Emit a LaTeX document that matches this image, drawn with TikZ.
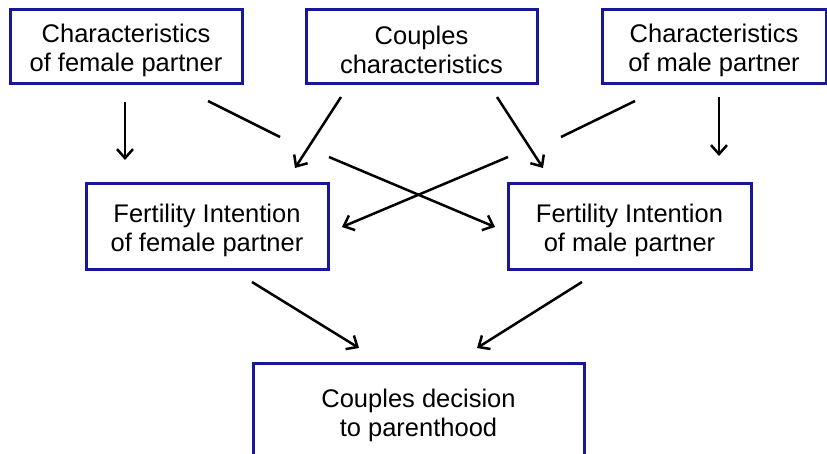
\documentclass[tikz,border=0pt]{standalone}
\usepackage{fontspec}
\setmainfont{Liberation Sans}
\usetikzlibrary{arrows.meta}
\definecolor{navy}{RGB}{24,24,150}
\newcommand{\toppad}{\rule{0pt}{27pt}}
\begin{document}
\begin{tikzpicture}[x=1pt,y=-1pt,
  box/.style={draw=navy, line width=3pt, align=center, inner sep=0pt,
    font=\fontsize{25.5}{29}\selectfont, text=black},
  arr/.style={-{Straight Barb[length=9pt,width=16pt]}, line width=2.5pt},
  seg/.style={line width=2.5pt}]
\useasboundingbox (0,0) rectangle (827,453);
\clip (0,0) rectangle (827,453);
% top boxes
\node[box, minimum width=232pt, minimum height=74pt] (cf) at (126,46) {\toppad Characteristics\\of female partner};
\node[box, minimum width=231pt, minimum height=74pt] (cc) at (421.5,46) {\toppad Couples\\characteristics};
\node[box, minimum width=224pt, minimum height=74pt] (cm) at (714,46) {\toppad Characteristics\\of male partner};
% middle boxes
\node[box, minimum width=242pt, minimum height=86pt] (ff) at (207,226) {\toppad Fertility Intention\\of female partner};
\node[box, minimum width=243pt, minimum height=86pt] (fm) at (629.5,226) {\toppad Fertility Intention\\of male partner};
% bottom box
\node[box, minimum width=331pt, minimum height=96pt] (cd) at (418.5,411) {\toppad Couples decision\\to parenthood};
% connector end points
\coordinate (a1) at (125,102);  \coordinate (a2) at (125,160);
\coordinate (b1) at (208,101);  \coordinate (b2) at (280,137);
\coordinate (b3) at (329,157);  \coordinate (b4) at (495,227);
\coordinate (c1) at (341,97);   \coordinate (c2) at (295,168);
\coordinate (d1) at (497,97);   \coordinate (d2) at (543,168);
\coordinate (e1) at (635,101);  \coordinate (e2) at (561,137);
\coordinate (e3) at (508,157);  \coordinate (e4) at (342,227);
\coordinate (f1) at (719,97);   \coordinate (f2) at (719,156);
\coordinate (g1) at (252,282);  \coordinate (g2) at (359,348);
\coordinate (h1) at (582,282);  \coordinate (h2) at (477,348);
% connectors
\draw[arr] (a1) -- (a2);
\draw[seg] (b1) -- (b2);
\draw[arr] (b3) -- (b4);
\draw[arr] (c1) -- (c2);
\draw[arr] (d1) -- (d2);
\draw[seg] (e1) -- (e2);
\draw[arr] (e3) -- (e4);
\draw[arr] (f1) -- (f2);
\draw[arr] (g1) -- (g2);
\draw[arr] (h1) -- (h2);
\end{tikzpicture}
\end{document}
